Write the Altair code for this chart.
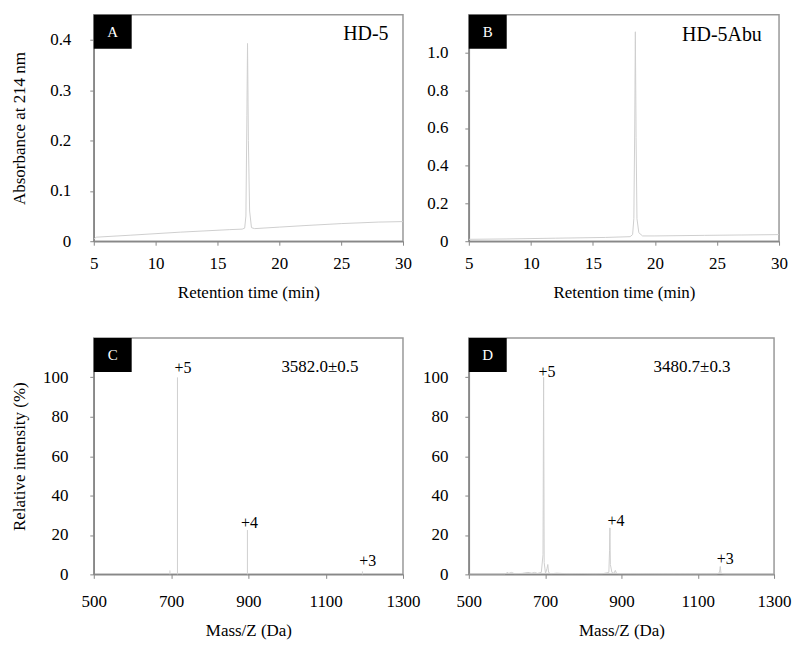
import altair as alt
import pandas as pd

# ---------------- data ----------------
# Panel A: HD-5 chromatogram
hd5_time = [5.0, 5.2, 8.0, 12.0, 16.0, 17.0, 17.2, 17.3, 17.38, 17.43, 17.5, 17.6, 17.75, 18.0, 20.0, 22.0, 25.0, 28.0, 30.0]
hd5_abs = [0.004, 0.008, 0.012, 0.018, 0.023, 0.024, 0.026, 0.05, 0.25, 0.393, 0.2, 0.06, 0.027, 0.025, 0.028, 0.031, 0.035, 0.038, 0.039]

# Panel B: HD-5Abu chromatogram
abu_time = [5.0, 8.0, 12.0, 16.0, 18.0, 18.2, 18.3, 18.37, 18.42, 18.48, 18.55, 18.7, 19.0, 20.0, 24.0, 27.0, 30.0]
abu_abs = [0.01, 0.012, 0.016, 0.02, 0.024, 0.035, 0.12, 0.6, 1.11, 0.55, 0.12, 0.045, 0.028, 0.028, 0.031, 0.033, 0.035]

# Panel C: HD-5 mass spectrum (sticks)
c_mz = [697, 716.5, 897.5, 1195]
c_int = [2, 100, 22.5, 1.5]

# Panel D: HD-5Abu mass spectrum (profile)
d_mz = [500, 595, 600, 605, 612, 620, 640, 655, 665, 672, 680, 690, 694.5, 696, 697.5, 701, 705, 707, 709, 715,
        730, 760, 800, 830, 850, 867, 868.8, 869.8, 871, 875, 880, 884, 887, 895, 1000, 1150, 1157, 1159, 1161, 1170, 1300]
d_int = [0, 0, 1, 0.5, 1, 0.3, 0.5, 1, 0.6, 1, 0.5, 1, 10, 100, 6, 0.5, 3, 5, 1, 0.3,
         0.6, 0.3, 0.4, 0.2, 0.3, 1, 12, 23.6, 5, 1, 0.5, 2, 0.5, 0.3, 0.1, 0, 1, 4, 0.5, 0, 0]

# annotations
c_lab = ["+5", "+4", "+3"]
c_lab_x = [731, 903, 1209]
c_lab_y = [104.5, 26.3, 6.7]
d_lab = ["+5", "+4", "+3"]
d_lab_x = [705, 886, 1172]
d_lab_y = [102.6, 27.2, 7.6]
c_mass = "3582.0\u00b10.5"
d_mass = "3480.7\u00b10.3"

time_ticks = [5, 10, 15, 20, 25, 30]
a_yticks = [0, 0.1, 0.2, 0.3, 0.4]
b_yticks = [0, 0.2, 0.4, 0.6, 0.8, 1.0]
mz_ticks = [500, 700, 900, 1100, 1300]
int_ticks = [0, 20, 40, 60, 80, 100]

FONT = "Liberation Serif"
LINE = "#cfcfcf"
ZERO_EXPR = "datum.value == 0 ? '0' : format(datum.value, '.1f')"


def corner_box(letter):
    one = pd.DataFrame({"k": [0]})
    box = alt.Chart(one).mark_rect(color="black").encode(
        x=alt.value(0), x2=alt.value(38), y=alt.value(0), y2=alt.value(34))
    txt = alt.Chart(one).mark_text(color="white", font=FONT, fontSize=15,
                                   align="center", baseline="middle").encode(
        x=alt.value(19), y=alt.value(17), text=alt.value(letter))
    return box + txt


def axis_common():
    return dict(labelFont=FONT, titleFont=FONT, labelFontSize=17, titleFontSize=17,
                labelColor="black", titleColor="black", titleFontWeight="normal")


def chrom_panel(times, absb, ydom, yticks, letter, name, name_x, name_y, ytitle, w, h,
                lab_pad, extent, tpad):
    df = pd.DataFrame({"t": times, "a": absb})
    xenc = alt.X("t:Q", scale=alt.Scale(domain=[5, 30], nice=False, zero=False),
                 axis=alt.Axis(values=time_ticks, title="Retention time (min)", format="d",
                               labelPadding=10, titlePadding=13, labelFlush=False,
                               **axis_common()))
    yax = dict(values=yticks, labelExpr=ZERO_EXPR, labelPadding=lab_pad,
               minExtent=extent, maxExtent=extent, **axis_common())
    if ytitle:
        yax["title"] = ytitle
        yax["titlePadding"] = tpad
    else:
        yax["title"] = None
    yenc = alt.Y("a:Q", scale=alt.Scale(domain=ydom, nice=False), axis=alt.Axis(**yax))
    line = alt.Chart(df).mark_line(color=LINE, strokeWidth=1, clip=True).encode(x=xenc, y=yenc)
    lab = alt.Chart(pd.DataFrame({"t": [name_x], "a": [name_y], "s": [name]})).mark_text(
        font=FONT, fontSize=20, align="center", baseline="middle", color="black").encode(
        x="t:Q", y="a:Q", text="s:N")
    return alt.layer(line, corner_box(letter), lab).properties(width=w, height=h)


def ms_panel(marks_chart_fn, letter, labs, lx, ly, mass, ytitle, w, h, lab_pad, extent, tpad):
    xenc = alt.X("mz:Q", scale=alt.Scale(domain=[500, 1300], nice=False, zero=False),
                 axis=alt.Axis(values=mz_ticks, title="Mass/Z (Da)", format="d",
                               labelPadding=15, titlePadding=13, labelFlush=False,
                               **axis_common()))
    yax = dict(values=int_ticks, labelPadding=lab_pad, minExtent=extent, maxExtent=extent,
               format="d", **axis_common())
    if ytitle:
        yax["title"] = ytitle
        yax["titlePadding"] = tpad
    else:
        yax["title"] = None
    yenc = alt.Y("i:Q", scale=alt.Scale(domain=[0, 120], nice=False), axis=alt.Axis(**yax))
    marks = marks_chart_fn(xenc, yenc)
    ldf = pd.DataFrame({"mz": lx, "i": ly, "s": labs})
    labels = alt.Chart(ldf).mark_text(font=FONT, fontSize=16, align="center",
                                      baseline="middle", color="black").encode(
        x="mz:Q", y="i:Q", text="s:N")
    mdf = pd.DataFrame({"mz": [1085], "i": [105.2], "s": [mass]})
    masst = alt.Chart(mdf).mark_text(font=FONT, fontSize=17, align="center",
                                     baseline="middle", color="black").encode(
        x="mz:Q", y="i:Q", text="s:N")
    return alt.layer(marks, corner_box(letter), labels, masst).properties(width=w, height=h)


def c_marks(xenc, yenc):
    df = pd.DataFrame({"mz": c_mz, "i": c_int})
    return alt.Chart(df).mark_rule(color=LINE, strokeWidth=1).encode(
        x=xenc, y=yenc, y2=alt.datum(0))


def d_marks(xenc, yenc):
    df = pd.DataFrame({"mz": d_mz, "i": d_int})
    return alt.Chart(df).mark_line(color=LINE, strokeWidth=1, clip=True).encode(x=xenc, y=yenc)


A = chrom_panel(hd5_time, hd5_abs, [0, 0.45], a_yticks, "A", "HD-5", 27.0, 0.411,
                "Absorbance at 214 nm", 310, 227, 19, 50, 15)
B = chrom_panel(abu_time, abu_abs, [0, 1.2], b_yticks, "B", "HD-5Abu", 25.4, 1.092,
                None, 311, 227, 17, 48, 16)
C = ms_panel(c_marks, "C", c_lab, c_lab_x, c_lab_y, c_mass, "Relative intensity (%)",
             310, 237, 22, 50, 15)
D = ms_panel(d_marks, "D", d_lab, d_lab_x, d_lab_y, d_mass, None, 306, 237, 17, 50, 15)

top = alt.hconcat(A, B, spacing=66, bounds="flush")
bottom = alt.hconcat(C, D, spacing=66, bounds="flush")

chart = alt.vconcat(top, bottom, spacing=36).properties(
    padding={"left": 2, "top": 5, "right": 0, "bottom": 0}
).configure(
    font=FONT
).configure_view(
    stroke="#999999", strokeWidth=1.5
).configure_axis(
    labelFont=FONT, labelFontSize=17, labelColor="black",
    titleFont=FONT, titleFontSize=17, titleFontWeight="normal", titleColor="black",
    domainColor="#888888", domainWidth=1.5, tickColor="#888888", tickSize=4,
    grid=False, zindex=1
)

chart.save("out.html", embed_options={"renderer": "svg", "actions": False})
